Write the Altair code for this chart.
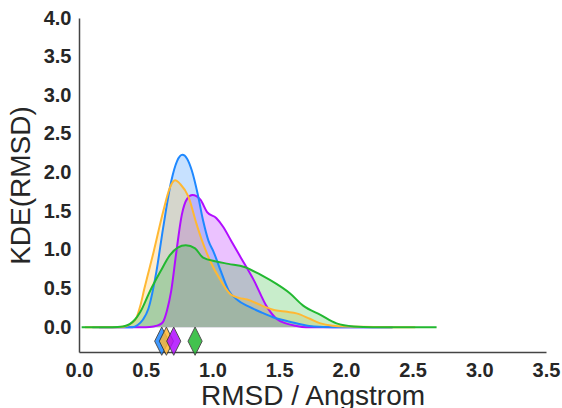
import altair as alt
import pandas as pd

series_names = ["S1", "S2", "S3", "S4"]
series_colors = ["#1E88FF", "#FFB833", "#B10DFF", "#22B830"]
fill_order = ["S3", "S1", "S2", "S4"]

blue_x = [0.10, 0.40, 0.44, 0.48, 0.52, 0.58, 0.63, 0.69, 0.735, 0.775, 0.81, 0.845, 0.89, 0.93, 0.97, 1.01, 1.06, 1.12, 1.19, 1.27, 1.37, 1.47, 1.56, 1.66, 1.76, 1.90, 2.35]
blue_y = [0.0, 0.0, 0.03, 0.10, 0.24, 0.72, 1.28, 1.88, 2.15, 2.23, 2.18, 2.03, 1.72, 1.38, 1.12, 0.97, 0.74, 0.48, 0.35, 0.27, 0.19, 0.12, 0.08, 0.04, 0.01, 0.0, 0.0]

orange_x = [0.045, 0.30, 0.36, 0.40, 0.43, 0.46, 0.49, 0.56, 0.63, 0.68, 0.72, 0.76, 0.82, 0.88, 0.92, 0.98, 1.06, 1.14, 1.20, 1.26, 1.37, 1.47, 1.56, 1.63, 1.73, 1.81, 1.90, 2.0, 2.52]
orange_y = [0.0, 0.0, 0.02, 0.06, 0.12, 0.28, 0.50, 0.98, 1.49, 1.80, 1.90, 1.85, 1.69, 1.34, 1.13, 0.87, 0.61, 0.42, 0.38, 0.36, 0.28, 0.22, 0.20, 0.18, 0.11, 0.05, 0.02, 0.01, 0.0]

purple_x = [0.15, 0.50, 0.56, 0.60, 0.63, 0.66, 0.69, 0.73, 0.77, 0.81, 0.85, 0.91, 0.96, 1.03, 1.08, 1.14, 1.21, 1.31, 1.41, 1.48, 1.55, 1.62, 1.70, 2.35]
purple_y = [0.0, 0.0, 0.01, 0.03, 0.07, 0.22, 0.46, 0.98, 1.45, 1.66, 1.71, 1.65, 1.49, 1.41, 1.30, 1.12, 0.91, 0.61, 0.26, 0.11, 0.05, 0.02, 0.0, 0.0]

green_x = [0.02, 0.25, 0.33, 0.38, 0.42, 0.46, 0.53, 0.61, 0.68, 0.74, 0.80, 0.87, 0.93, 1.03, 1.12, 1.24, 1.37, 1.48, 1.58, 1.68, 1.81, 1.93, 2.06, 2.20, 2.68]
green_y = [0.0, 0.0, 0.01, 0.04, 0.10, 0.20, 0.46, 0.72, 0.93, 1.03, 1.06, 1.02, 0.90, 0.85, 0.82, 0.78, 0.67, 0.56, 0.44, 0.28, 0.16, 0.05, 0.01, 0.0, 0.0]

marker_x = [0.62, 0.655, 0.71, 0.87]
marker_y = [-0.18, -0.18, -0.18, -0.18]

x_ticks = [0.0, 0.5, 1.0, 1.5, 2.0, 2.5, 3.0, 3.5]
y_ticks = [0.0, 0.5, 1.0, 1.5, 2.0, 2.5, 3.0, 3.5, 4.0]

curves = {
    "S1": (blue_x, blue_y),
    "S2": (orange_x, orange_y),
    "S3": (purple_x, purple_y),
    "S4": (green_x, green_y),
}
rows = []
for name in fill_order:
    xs, ys = curves[name]
    for a, b in zip(xs, ys):
        rows.append({"series": name, "x": a, "y": b, "y0": 0.0})
df = pd.DataFrame(rows)
mdf = pd.DataFrame({"series": series_names, "x": marker_x, "y": marker_y})

cscale = alt.Scale(domain=series_names, range=series_colors)

xenc = alt.X("x:Q", scale=alt.Scale(domain=[0, 3.5], nice=False, zero=False),
             axis=alt.Axis(title="RMSD / Angstrom", values=x_ticks, format=".1f", labelFlush=False,
                           titleY=52, titleBaseline="alphabetic"))
yenc = alt.Y("y:Q", stack=None, scale=alt.Scale(domain=[-0.32, 4.0], nice=False, zero=False),
             axis=alt.Axis(title="KDE(RMSD)", values=y_ticks, format=".1f", labelFlush=False,
                           titleX=-58, titleBaseline="middle"))

base = alt.Chart(df)
area = base.mark_area(interpolate="monotone", orient="vertical", fillOpacity=0.25).encode(
    x=xenc, y=yenc, y2="y0:Q",
    color=alt.Color("series:N", scale=cscale, legend=None))
line = base.mark_line(interpolate="monotone", strokeWidth=2).encode(
    x="x:Q", y="y:Q", color=alt.Color("series:N", scale=cscale, legend=None))

pts = alt.Chart(mdf).mark_point(
    shape="M0,-1L0.5,0L0,1L-0.5,0Z", size=800, filled=True, opacity=0.85,
    stroke="#333333", strokeWidth=1
).encode(x="x:Q", y="y:Q", color=alt.Color("series:N", scale=cscale, legend=None))

chart = alt.layer(area, line, pts).properties(
    width=467, height=334,
    autosize=alt.AutoSizeParams(type="none"),
    padding={"left": 79, "top": 18, "right": 16, "bottom": 56},
).configure_view(stroke=None).configure_axis(
    grid=False, ticks=False, domainColor="#444444", domainWidth=1.5,
    labelFont="Liberation Sans", labelFontWeight="bold", labelFontSize=20, labelColor="#262626",
    titleFont="Liberation Sans", titleFontWeight="normal", titleFontSize=28, titleColor="#262626",
    labelPadding=8
)

chart.save("out.html", embed_options={"renderer": "svg", "actions": False})
